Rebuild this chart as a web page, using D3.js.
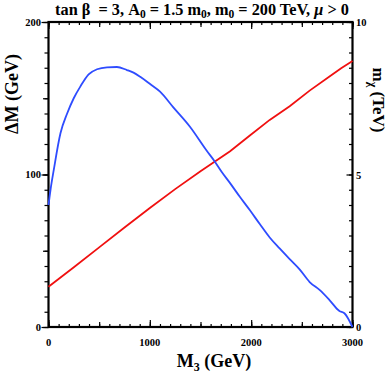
<!DOCTYPE html>
<html><head><meta charset="utf-8">
<script src="https://cdn.jsdelivr.net/npm/d3@7"></script>
<style>
html,body{margin:0;padding:0;background:#fff;}
text{font-family:"Liberation Serif","DejaVu Serif",serif;font-weight:bold;fill:#000;}
</style></head>
<body>
<svg id="c" width="390" height="382"></svg>
<script>
// Data
const m3Ticks = [0, 1000, 2000, 3000];
const dmTicks = [0, 100, 200];
const mchiTicks = [0, 5, 10];
// Blue: Delta M (GeV) vs M3 (GeV)
const blueM3 = [0,20,52,118,184,249,315,396,479,577,675,774,839,905,1003,1101,1232,1396,1560,1642,1708,1790,1888,1986,2085,2183,2281,2380,2478,2577,2675,2773,2871,2920,3000];
const blueDM = [80,90,103,127,140,150,157.8,165.7,169,170.3,170.5,168.5,166.8,164.1,159.3,154.3,144,131.3,115.7,108.4,101.8,94.5,85.4,76.7,67.5,58.7,51.5,44.5,37.8,29.5,24.3,17.7,10.5,9,0];
// Red: m_chi (TeV) vs M3 (GeV)
const redM3 = [0,250,500,750,1000,1250,1500,1792,1987,2183,2380,2577,2773,2888,3000];
const redMchi = [1.32,1.96,2.61,3.26,3.9,4.52,5.11,5.76,6.28,6.79,7.24,7.75,8.21,8.48,8.72];

const L = 48.5, R = 352.5, T = 22, B = 327;
const svg = d3.select("#c");
const x = d3.scaleLinear().domain([0, 3000]).range([L, R]);
const yL = d3.scaleLinear().domain([0, 200]).range([B, T]);
const yR = d3.scaleLinear().domain([0, 10]).range([B, T]);

function tickAxis(axis, transform) {
  const g = svg.append("g").attr("transform", transform).call(axis);
  g.select(".domain").remove();
  g.selectAll("line").attr("stroke", "#000").attr("stroke-width", 1.2);
  g.selectAll("text").remove();
  return g;
}
const r100 = d3.range(0, 3001, 100), r500 = d3.range(0, 3001, 500);
// bottom (inward)
tickAxis(d3.axisTop(x).tickValues(r100).tickSize(3), `translate(0,${B})`);
tickAxis(d3.axisTop(x).tickValues(r500).tickSize(5), `translate(0,${B})`);
tickAxis(d3.axisTop(x).tickValues(m3Ticks).tickSize(7), `translate(0,${B})`);
// top (inward)
tickAxis(d3.axisBottom(x).tickValues(r100).tickSize(3), `translate(0,${T})`);
tickAxis(d3.axisBottom(x).tickValues(r500).tickSize(5), `translate(0,${T})`);
tickAxis(d3.axisBottom(x).tickValues(m3Ticks).tickSize(7), `translate(0,${T})`);
// left (outward)
tickAxis(d3.axisLeft(yL).tickValues(d3.range(0, 201, 10)).tickSize(4), `translate(${L},0)`);
tickAxis(d3.axisLeft(yL).tickValues(d3.range(0, 201, 50)).tickSize(5.5), `translate(${L},0)`);
tickAxis(d3.axisLeft(yL).tickValues(dmTicks).tickSize(7), `translate(${L},0)`);
// right (inward)
tickAxis(d3.axisLeft(yR).tickValues(d3.range(0, 10.01, 0.5)).tickSize(3.5), `translate(${R},0)`);
tickAxis(d3.axisLeft(yR).tickValues(mchiTicks).tickSize(6), `translate(${R},0)`);

// frame
svg.append("rect").attr("x", L).attr("y", T).attr("width", R - L).attr("height", B - T)
  .attr("fill", "none").attr("stroke", "#000").attr("stroke-width", 2.2);

// curves
const lineL = d3.line().curve(d3.curveMonotoneX).x(d => x(d[0])).y(d => yL(d[1]));
const lineR = d3.line().x(d => x(d[0])).y(d => yR(d[1]));
svg.append("path").datum(redM3.map((v, i) => [v, redMchi[i]])).attr("d", lineR)
  .attr("fill", "none").attr("stroke", "#f01010").attr("stroke-width", 1.8);
svg.append("path").datum(blueM3.map((v, i) => [v, blueDM[i]])).attr("d", lineL)
  .attr("fill", "none").attr("stroke", "#2e4cff").attr("stroke-width", 1.8);

// tick labels
svg.append("g").selectAll("text").data(m3Ticks).join("text")
  .attr("x", d => x(d)).attr("y", 346).attr("text-anchor", "middle")
  .attr("font-size", 10.5).text(d => d);
svg.append("g").selectAll("text").data(dmTicks).join("text")
  .attr("x", 41).attr("y", d => yL(d) + 3.5).attr("text-anchor", "end")
  .attr("font-size", 10.5).text(d => d);
svg.append("g").selectAll("text").data(mchiTicks).join("text")
  .attr("x", 356).attr("y", d => yR(d) + 4).attr("text-anchor", "start")
  .attr("font-size", 10.5).text(d => d);

// title
const t = svg.append("text").attr("x", 202).attr("y", 15).attr("text-anchor", "middle")
  .attr("font-size", 16.3).style("white-space", "pre");
t.append("tspan").text("tan \u03b2  = 3, A");
t.append("tspan").attr("font-size", 11.5).attr("dy", 3).text("0");
t.append("tspan").attr("dy", -3).text(" = 1.5 m");
t.append("tspan").attr("font-size", 11.5).attr("dy", 3).text("0");
t.append("tspan").attr("dy", -3).text(", m");
t.append("tspan").attr("font-size", 11.5).attr("dy", 3).text("0");
t.append("tspan").attr("dy", -3).text(" = 200 TeV, ");
t.append("tspan").attr("font-style", "italic").text("\u03bc");
t.append("tspan").text(" > 0");

// x label
const xl = svg.append("text").attr("x", 214).attr("y", 367).attr("text-anchor", "middle").attr("font-size", 18);
xl.append("tspan").text("M");
xl.append("tspan").attr("font-size", 12).attr("dy", 4).text("3");
xl.append("tspan").attr("dy", -4).text(" (GeV)");

// left y label
svg.append("text").attr("transform", "translate(18,94) rotate(-90)").attr("text-anchor", "middle")
  .attr("font-size", 18).text("\u0394M (GeV)");

// right y label
const rl = svg.append("text").attr("transform", "translate(373,100) rotate(90)").attr("text-anchor", "middle")
  .attr("font-size", 17);
rl.append("tspan").text("m");
rl.append("tspan").attr("font-size", 12).attr("dy", 4).text("\u03c7");
rl.append("tspan").attr("dy", -4).text(" (TeV)");
</script>
</body></html>
